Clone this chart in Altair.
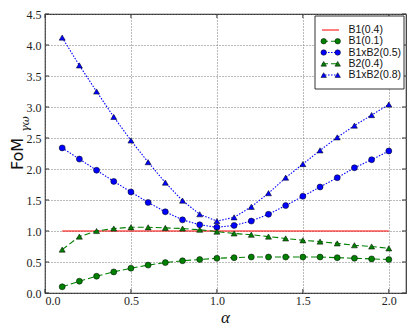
import altair as alt
import pandas as pd

alpha = [0.1, 0.2, 0.3, 0.4, 0.5, 0.6, 0.7, 0.8, 0.9, 1.0,
         1.1, 1.2, 1.3, 1.4, 1.5, 1.6, 1.7, 1.8, 1.9, 2.0]
b1_04 = [1.0] * 20
b1_01 = [0.10, 0.19, 0.27, 0.34, 0.40, 0.45, 0.49, 0.52, 0.54, 0.56,
         0.57, 0.58, 0.58, 0.58, 0.58, 0.58, 0.57, 0.56, 0.55, 0.54]
b1xb2_05 = [2.34, 2.16, 1.98, 1.80, 1.63, 1.46, 1.31, 1.18, 1.10, 1.06,
            1.09, 1.16, 1.27, 1.41, 1.56, 1.71, 1.86, 2.02, 2.15, 2.29]
b2_04 = [0.70, 0.91, 1.00, 1.04, 1.06, 1.06, 1.05, 1.04, 1.02, 0.99,
         0.96, 0.94, 0.91, 0.88, 0.85, 0.83, 0.80, 0.77, 0.75, 0.72]
b1xb2_08 = [4.12, 3.67, 3.25, 2.84, 2.46, 2.11, 1.78, 1.49, 1.27, 1.16,
            1.22, 1.39, 1.61, 1.86, 2.08, 2.30, 2.51, 2.70, 2.87, 3.04]

series_names = ["B1(0.4)", "B1(0.1)", "B1xB2(0.5)", "B2(0.4)", "B1xB2(0.8)"]
series_values = [b1_04, b1_01, b1xb2_05, b2_04, b1xb2_08]
series_colors = ["#ff0000", "#008000", "#0000ff", "#008000", "#0000ff"]
series_dash = [[1, 0], [6, 3], [1.5, 1.5], [6, 3], [1.5, 1.5]]
series_shapes = ["circle", "circle", "circle", "triangle-up", "triangle-up"]
marked = ["B1(0.1)", "B1xB2(0.5)", "B2(0.4)", "B1xB2(0.8)"]

x_ticks = [0.0, 0.5, 1.0, 1.5, 2.0]
y_ticks = [0.0, 0.5, 1.0, 1.5, 2.0, 2.5, 3.0, 3.5, 4.0, 4.5]

W, H = 361, 279

rows = []
for name, vals in zip(series_names, series_values):
    for a, v in zip(alpha, vals):
        rows.append({"series": name, "alpha": a, "value": v})
df = pd.DataFrame(rows)
df_pts = df[df["series"].isin(marked)]

xscale = alt.Scale(domain=[0, 2.1], nice=False, zero=False)
yscale = alt.Scale(domain=[0, 4.5], nice=False, zero=False)
cscale = alt.Scale(domain=series_names, range=series_colors)
dscale = alt.Scale(domain=series_names, range=series_dash)
sscale = alt.Scale(domain=series_names, range=series_shapes)

xaxis = alt.Axis(values=x_ticks, format=".1f", title=None, grid=True,
                 gridDash=[1, 2], gridColor="#777", gridOpacity=1, ticks=False,
                 domain=False, labelFont="Liberation Serif", labelFontSize=12,
                 labelColor="#222", labelPadding=2)
yaxis = alt.Axis(values=y_ticks, format=".1f", title=None, grid=True,
                 gridDash=[1, 2], gridColor="#777", gridOpacity=1, ticks=False,
                 domain=False, labelFont="Liberation Serif", labelFontSize=12,
                 labelColor="#222", labelPadding=4)

X = alt.X("alpha:Q", scale=xscale, axis=xaxis)
Y = alt.Y("value:Q", scale=yscale, axis=yaxis)
C = alt.Color("series:N", scale=cscale, legend=None)
D = alt.StrokeDash("series:N", scale=dscale, legend=None)
S = alt.Shape("series:N", scale=sscale, legend=None)

lines = alt.Chart(df).mark_line(strokeWidth=1.1).encode(x=X, y=Y, color=C, strokeDash=D, detail="series:N")
points = alt.Chart(df_pts).mark_point(filled=True, size=36, stroke="black", strokeWidth=0.5, opacity=1).encode(
    x=X, y=Y, fill=alt.Fill("series:N", scale=cscale, legend=None), shape=S)

xt = pd.DataFrame({"alpha": x_ticks})
yt = pd.DataFrame({"value": y_ticks})
tick_bottom = alt.Chart(xt).mark_rule(color="#333").encode(x=X, y=alt.value(H), y2=alt.value(H - 4))
tick_top = alt.Chart(xt).mark_rule(color="#333").encode(x=X, y=alt.value(0), y2=alt.value(4))
tick_left = alt.Chart(yt).mark_rule(color="#333").encode(y=Y, x=alt.value(0), x2=alt.value(4))
tick_right = alt.Chart(yt).mark_rule(color="#333").encode(y=Y, x=alt.value(W), x2=alt.value(W - 4))

ytitle = alt.Chart(pd.DataFrame({"t": ["FoM"]})).mark_text(
    angle=270, font="DejaVu Sans", fontSize=16, color="#111", align="center", baseline="middle"
).encode(text="t:N", x=alt.value(-27), y=alt.value(140))
ysub = alt.Chart(pd.DataFrame({"t": ["γω"]})).mark_text(
    angle=270, font="DejaVu Serif", fontStyle="italic", fontSize=11, color="#111", align="center", baseline="middle"
).encode(text="t:N", x=alt.value(-19), y=alt.value(110))
xtitle = alt.Chart(pd.DataFrame({"t": ["α"]})).mark_text(
    font="Liberation Serif", fontStyle="italic", fontSize=17, color="#111", align="center", baseline="middle"
).encode(text="t:N", x=alt.value(W / 2), y=alt.value(H + 25))

main = alt.layer(lines, points, tick_bottom, tick_top, tick_left, tick_right, ytitle, ysub, xtitle)

# legend
leg = pd.DataFrame({"series": series_names})
leg_pts = leg[leg["series"].isin(marked)]
LY = alt.Y("series:N", scale=alt.Scale(domain=series_names, range=[10.3, 66.7], padding=0), axis=None)
box = alt.Chart(pd.DataFrame({"a": [0]})).mark_rect(fill="white", stroke="#333", strokeWidth=1).encode(
    x=alt.value(270), x2=alt.value(359), y=alt.value(2), y2=alt.value(75))
leg_lines = alt.Chart(leg).mark_rule(strokeWidth=1.1).encode(
    x=alt.value(277), x2=alt.value(294), y=LY, color=C, strokeDash=D)
leg_p1 = alt.Chart(leg_pts).mark_point(filled=True, size=30, stroke="black", strokeWidth=0.5, opacity=1).encode(
    x=alt.value(278.7), y=LY, fill=alt.Fill("series:N", scale=cscale, legend=None), shape=S)
leg_p2 = alt.Chart(leg_pts).mark_point(filled=True, size=30, stroke="black", strokeWidth=0.5, opacity=1).encode(
    x=alt.value(292.7), y=LY, fill=alt.Fill("series:N", scale=cscale, legend=None), shape=S)
leg_txt = alt.Chart(leg).mark_text(align="left", baseline="middle", font="Liberation Sans", fontSize=10.5, color="#111").encode(
    x=alt.value(303.5), y=LY, text="series:N")
legend = alt.layer(box, leg_lines, leg_p1, leg_p2, leg_txt)

chart = alt.layer(main, legend).resolve_scale(y="independent").properties(
    width=W, height=H,
    autosize=alt.AutoSizeParams(type="none"),
    padding={"left": 37, "top": 6, "right": 1, "bottom": 35},
).configure_view(stroke="#333", strokeWidth=1.2)

chart.save("out.html", embed_options={"renderer": "svg", "actions": False})
